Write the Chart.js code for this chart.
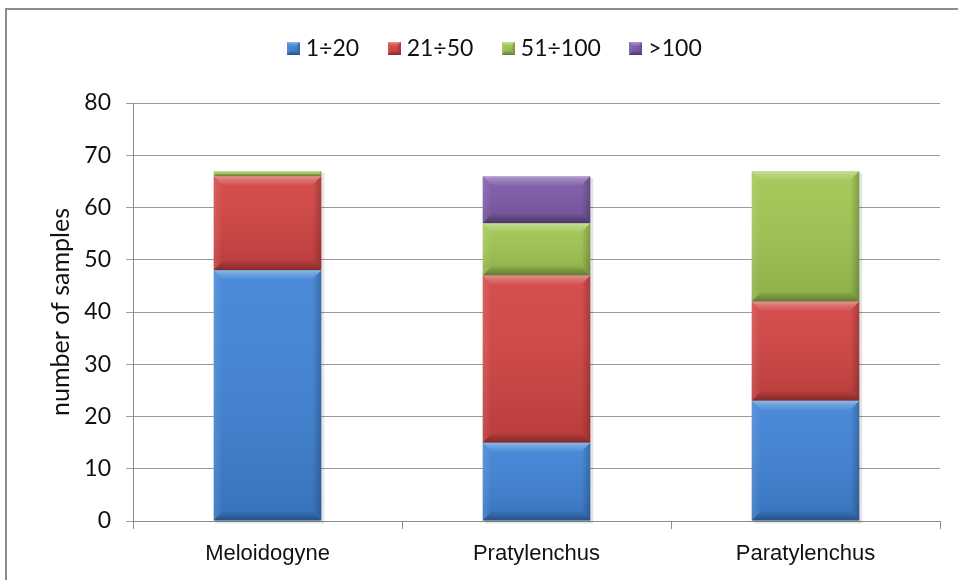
<!DOCTYPE html>
<html><head><meta charset="utf-8">
<script src="https://cdn.jsdelivr.net/npm/chart.js@4"></script>
<style>
html,body{margin:0;padding:0;background:#fff;overflow:hidden}
#wrap{position:relative;width:958px;height:580px;overflow:hidden}
#frame{position:absolute;left:5px;top:8px;width:1000px;height:600px;border-left:2px solid #8c8c8c;border-top:2px solid #8c8c8c;box-sizing:border-box}
canvas{position:absolute;left:0;top:0}
</style></head><body>
<div id="wrap"><div id="frame"></div><canvas id="c" width="958" height="580"></canvas></div>
<script>
const categories = ['Meloidogyne', 'Pratylenchus', 'Paratylenchus'];
const seriesNames = ['1÷20', '21÷50', '51÷100', '>100'];
const series1to20 = [48, 15, 23];
const series21to50 = [18, 32, 19];
const series51to100 = [1, 10, 25];
const seriesOver100 = [0, 9, 0];
const yMin = 0, yMax = 80, yStep = 10;
const yTitle = 'number of samples';

const colors = ['#3f83d6', '#d24442', '#a0c652', '#7c59a8'];

function bevelRect(ctx, l, t, r, b, s) {
  const h = b - t, w = r - l;
  s = Math.min(s, h / 2, w / 2);
  if (h <= 0) return;
  const g = ctx.createLinearGradient(0, t, 0, b);
  g.addColorStop(0, 'rgba(255,255,255,0.06)');
  g.addColorStop(1, 'rgba(0,0,0,0.12)');
  ctx.fillStyle = g; ctx.fillRect(l, t, w, h);
  ctx.beginPath(); ctx.moveTo(l, t); ctx.lineTo(r, t); ctx.lineTo(r - s, t + s); ctx.lineTo(l + s, t + s); ctx.closePath();
  const gt = ctx.createLinearGradient(0, t, 0, t + s);
  gt.addColorStop(0, 'rgba(255,255,255,0.40)');
  gt.addColorStop(0.35, 'rgba(255,255,255,0.22)');
  gt.addColorStop(1, 'rgba(255,255,255,0.04)');
  ctx.fillStyle = gt; ctx.fill();
  ctx.beginPath(); ctx.moveTo(l, t); ctx.lineTo(l + s, t + s); ctx.lineTo(l + s, b - s); ctx.lineTo(l, b); ctx.closePath();
  const gl = ctx.createLinearGradient(l, 0, l + s, 0);
  gl.addColorStop(0, 'rgba(255,255,255,0.10)');
  gl.addColorStop(1, 'rgba(255,255,255,0.0)');
  ctx.fillStyle = gl; ctx.fill();
  ctx.beginPath(); ctx.moveTo(r, t); ctx.lineTo(r - s, t + s); ctx.lineTo(r - s, b - s); ctx.lineTo(r, b); ctx.closePath();
  const gr = ctx.createLinearGradient(r - s, 0, r, 0);
  gr.addColorStop(0, 'rgba(0,0,0,0.0)');
  gr.addColorStop(1, 'rgba(0,0,0,0.22)');
  ctx.fillStyle = gr; ctx.fill();
  ctx.beginPath(); ctx.moveTo(l, b); ctx.lineTo(r, b); ctx.lineTo(r - s, b - s); ctx.lineTo(l + s, b - s); ctx.closePath();
  const gb = ctx.createLinearGradient(0, b - s, 0, b);
  gb.addColorStop(0, 'rgba(0,0,0,0.04)');
  gb.addColorStop(1, 'rgba(0,0,0,0.30)');
  ctx.fillStyle = gb; ctx.fill();
}

function legendIcon(color) {
  const c = document.createElement('canvas');
  c.width = 13; c.height = 13;
  const x = c.getContext('2d');
  x.fillStyle = color; x.fillRect(0, 0, 13, 13);
  bevelRect(x, 0, 0, 13, 13, 4);
  return c;
}

const legendSpace = {
  id: 'legendSpace',
  beforeInit(chart) {
    const fit = chart.legend.fit;
    chart.legend.fit = function () { fit.call(this); this.height += 33; };
  },
  afterLayout(chart) {
    chart.legend.left += 7;
    chart.legend.right += 7;
  }
};

const bevelPlugin = {
  id: 'bevel',
  beforeDatasetsDraw(chart) {
    const ctx = chart.ctx;
    const metas = chart.getSortedVisibleDatasetMetas();
    ctx.save();
    for (let i = 0; i < categories.length; i++) {
      let top = Infinity, bottom = -Infinity, l = 0, r = 0;
      metas.forEach(m => {
        const el = m.data[i]; if (!el) return;
        const p = el.getProps(['x', 'y', 'base', 'width'], true);
        top = Math.min(top, p.y, p.base); bottom = Math.max(bottom, p.y, p.base);
        l = p.x - p.width / 2; r = p.x + p.width / 2;
      });
      ctx.fillStyle = 'rgba(0,0,0,0.10)';
      ctx.fillRect(l + 2, top + 2, r - l + 1, bottom - top + 1);
    }
    ctx.restore();
  },
  afterDatasetsDraw(chart) {
    const ctx = chart.ctx;
    ctx.save();
    chart.getSortedVisibleDatasetMetas().forEach(m => {
      m.data.forEach(el => {
        const p = el.getProps(['x', 'y', 'base', 'width'], true);
        const t = Math.min(p.y, p.base), b = Math.max(p.y, p.base);
        if (b - t < 0.5) return;
        bevelRect(ctx, p.x - p.width / 2, t, p.x + p.width / 2, b, 9);
      });
    });
    ctx.restore();
  }
};

const dataArrays = [series1to20, series21to50, series51to100, seriesOver100];
const icons = colors.map(legendIcon);

new Chart(document.getElementById('c'), {
  type: 'bar',
  data: {
    labels: categories,
    datasets: dataArrays.map((d, i) => ({
      label: seriesNames[i],
      data: d,
      backgroundColor: colors[i],
      borderWidth: 0,
      categoryPercentage: 0.4,
      barPercentage: 1.0,
      pointStyle: icons[i]
    }))
  },
  options: {
    responsive: false,
    devicePixelRatio: 1,
    animation: false,
    layout: { padding: { left: 40, right: 18, top: 3, bottom: 0 } },
    plugins: {
      tooltip: { enabled: false },
      legend: {
        position: 'top',
        align: 'center',
        labels: {
          usePointStyle: true,
          pointStyleWidth: 2,
          font: { family: 'Lato', size: 23 },
          color: '#111',
          padding: 34,
          boxHeight: 13
        }
      }
    },
    scales: {
      x: {
        stacked: true,
        grid: { display: true, drawOnChartArea: false, tickLength: 8, color: '#8c8c8c', offset: true },
        border: { color: '#8c8c8c', width: 1 },
        ticks: { font: { family: 'Liberation Sans', size: 22 }, color: '#111', padding: 12 },
        afterFit(s) { s.height = 59; }
      },
      y: {
        stacked: true,
        min: yMin, max: yMax,
        ticks: { stepSize: yStep, font: { family: 'Lato', size: 23 }, color: '#111', padding: 15 },
        grid: { color: '#9a9a9a', tickLength: 7 },
        border: { color: '#8c8c8c', width: 1 },
        title: { display: true, text: yTitle, font: { family: 'Lato', size: 25 }, color: '#111', padding: { top: 6, bottom: 0 } },
        afterFit(s) { s.width = 93; }
      }
    }
  },
  plugins: [legendSpace, bevelPlugin]
});
</script>
</body></html>
